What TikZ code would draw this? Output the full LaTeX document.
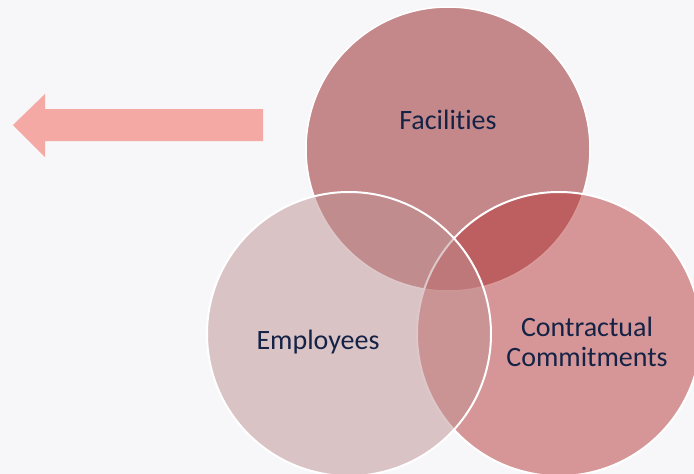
\documentclass[tikz,border=0pt]{standalone}
\usepackage{fontspec}
\setmainfont{Carlito}[RawFeature={-liga,-clig}]
\usetikzlibrary{positioning}
\definecolor{my_bg}{RGB}{247,247,249}
\definecolor{my_fac}{RGB}{196,136,138}
\definecolor{my_emp}{RGB}{191,145,147}
\definecolor{my_con}{RGB}{183,55,55}
\definecolor{my_arrow}{RGB}{244,169,164}
\definecolor{my_text}{RGB}{20,34,70}
\tikzset{
  venn/.style = {circle, draw=white, line width=2pt, minimum size=284pt, inner sep=0pt},
  vennlabel/.style = {align=center, text=my_text, font=\fontsize{28}{30}\selectfont, inner sep=0pt}
}

\begin{document}
\begin{tikzpicture}[x=1pt,y=-1pt,
        fac/.style={venn, fill=my_fac, line width=1.5pt},
        emp/.style={venn, fill=my_emp, fill opacity=0.5},
        con/.style={venn, fill=my_con, fill opacity=0.5}]
    \fill[my_bg] (0,0) rectangle (694,474);
    \useasboundingbox (0,0) rectangle (694,474);
    \fill[my_arrow] (263,109) -- (45,109) -- (45,94) -- (13,125) -- (45,157) -- (45,141) -- (263,141) -- cycle;
    \node [fac] (facilities) at (448,149) {};
    \node [con] (contractual) at (559,334) {};
    \node [emp] (employees) at (349,334) {};
    \node [vennlabel] (facilitiesText) at (448,120) {Facilities};
    \node [vennlabel] (employeesText) at (318,342) {Employees};
    \node [vennlabel] (contractualText) at (587,342) {Contractual\\Commitments};
\end{tikzpicture}
\end{document}
